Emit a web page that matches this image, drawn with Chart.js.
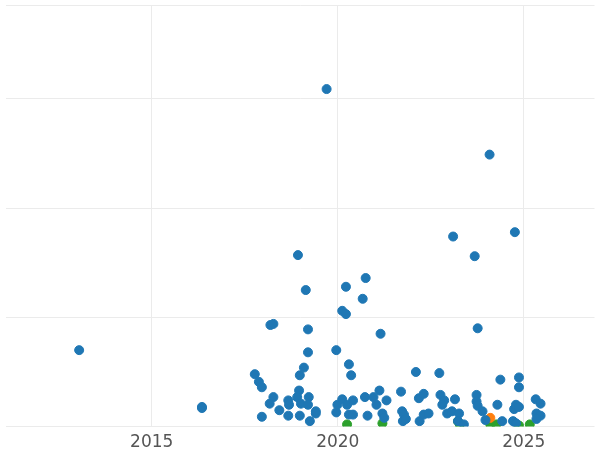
<!DOCTYPE html>
<html><head><meta charset="utf-8">
<script src="https://cdn.jsdelivr.net/npm/chart.js@4"></script>
<style>html,body{margin:0;padding:0;background:#fff}#w{width:600px;height:450px}</style>
</head><body><div id="w"><canvas id="c"></canvas></div>
<script>
const blueX=[2013.05,2016.35,2016.35,2019.70,2024.08,2023.10,2024.76,2023.68,2018.93,2019.14,2020.75,2020.22,2020.67,2020.12,2020.22,2018.19,2018.27,2019.20,2021.15,2023.76,2019.96,2019.20,2020.30,2020.36,2019.09,2018.98,2017.77,2017.88,2017.96,2022.10,2022.73,2024.37,2024.87,2024.87,2018.96,2021.70,2021.12,2018.27,2018.17,2018.67,2018.69,2018.91,2019.22,2019.01,2019.20,2018.43,2017.96,2018.67,2018.98,2019.41,2019.41,2019.25,2019.99,2020.12,2020.25,2020.41,2019.96,2020.30,2020.41,2020.73,2020.96,2021.31,2021.04,2020.80,2021.20,2021.25,2021.73,2021.78,2021.75,2021.83,2022.18,2022.31,2022.20,2022.31,2022.44,2022.76,2022.86,2022.81,2023.15,2022.94,2023.07,2023.26,2023.23,2023.39,2023.73,2023.73,2023.76,2023.89,2023.97,2024.29,2024.42,2024.74,2024.79,2024.87,2024.71,2024.79,2025.32,2025.45,2025.34,2025.45,2025.34];
const blueY=[0.70,0.18,0.17,3.09,2.49,1.74,1.78,1.56,1.57,1.25,1.36,1.28,1.17,1.06,1.03,0.93,0.94,0.89,0.85,0.90,0.70,0.68,0.57,0.47,0.54,0.47,0.48,0.41,0.36,0.50,0.49,0.43,0.45,0.36,0.33,0.32,0.33,0.27,0.21,0.24,0.20,0.27,0.27,0.21,0.20,0.15,0.09,0.10,0.10,0.14,0.12,0.05,0.20,0.25,0.20,0.24,0.13,0.11,0.11,0.27,0.27,0.24,0.20,0.10,0.12,0.08,0.14,0.11,0.05,0.07,0.26,0.30,0.05,0.11,0.12,0.29,0.24,0.20,0.25,0.12,0.14,0.12,0.05,0.02,0.29,0.23,0.19,0.14,0.06,0.20,0.05,0.16,0.20,0.18,0.05,0.03,0.25,0.21,0.12,0.10,0.07];
const orangeX=[2024.10];
const orangeY=[0.08];
const greenX=[2020.25,2021.20,2023.23,2023.28,2024.10,2024.26,2024.87,2025.16];
const greenY=[0.02,0.03,0.05,0.02,0.02,0.02,0.01,0.02];
const xTicks=[2015,2020,2025];
const pts=(xs,ys)=>xs.map((x,i)=>({x:x,y:ys[i]}));
new Chart(document.getElementById('c'),{
type:'scatter',
data:{datasets:[
{data:pts(blueX,blueY),backgroundColor:'#1f77b4',borderColor:'#1f77b4',pointRadius:4.5,pointHoverRadius:4.5},
{data:pts(orangeX,orangeY),backgroundColor:'#ff7f0e',borderColor:'#ff7f0e',pointRadius:4.5},
{data:pts(greenX,greenY),backgroundColor:'#2ca02c',borderColor:'#2ca02c',pointRadius:4.5}
]},
options:{responsive:true,maintainAspectRatio:false,animation:false,
layout:{padding:{left:-5,right:-6,top:-5,bottom:-9}},
plugins:{legend:{display:false},tooltip:{enabled:false}},
scales:{
x:{type:'linear',min:2011.07,max:2026.9,
afterBuildTicks:a=>{a.ticks=xTicks.map(v=>({value:v}));},
grid:{color:'#ebebeb',drawTicks:false},border:{display:false},
ticks:{padding:6,font:{family:'DejaVu Sans',size:17},color:'#555',callback:v=>String(v)}},
y:{min:0,max:3.855,grid:{color:'#ebebeb',drawTicks:false},border:{display:false},
afterFit:a=>{a.width=0;},
ticks:{display:false,stepSize:1}}
}}
});
</script></body></html>
